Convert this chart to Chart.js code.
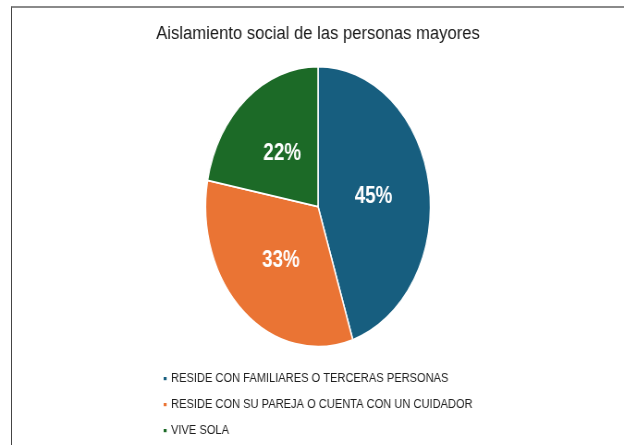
<!DOCTYPE html>
<html>
<head>
<meta charset="utf-8">
<script src="https://cdn.jsdelivr.net/npm/chart.js@4/dist/chart.umd.min.js"></script>
<style>
    html, body { margin: 0; padding: 0; background: #fff; overflow: hidden; }
    #frame {
        position: absolute; left: 11px; top: 6px; width: 613px; height: 439px;
        border-left: 1px solid #444; border-top: 2px solid #8a8a8a;
        box-sizing: border-box; overflow: hidden;
    }
    #pieChart {
        position: absolute; left: 0; top: 0;
        width: 662px; height: 438px;
        transform: scaleX(0.9245); transform-origin: 0 0;
    }
</style>
</head>
<body>
<div id="frame"><canvas id="pieChart" width="662" height="438"></canvas></div>
<script>
// datos del gráfico
const labels = [
    'RESIDE CON FAMILIARES O TERCERAS PERSONAS',
    'RESIDE CON SU PAREJA O CUENTA CON UN CUIDADOR',
    'VIVE SOLA'
];
const values = [45, 33, 22];
const colors = ['#175e7f', '#ea7434', '#1c6a27'];
const title = 'Aislamiento social de las personas mayores';

const STRETCH_Y = 1.151; // pie is taller than wide in the reference

document.addEventListener('DOMContentLoaded', function() {
    // squash the pie vertically into an ellipse and draw the % labels
    const ellipsePie = {
        id: 'ellipsePie',
        beforeDatasetsDraw(chart) {
            const arc = chart.getDatasetMeta(0).data[0];
            const ctx = chart.ctx;
            ctx.save();
            ctx.translate(arc.x, arc.y);
            ctx.scale(1, STRETCH_Y);
            ctx.translate(-arc.x, -arc.y);
        },
        afterDatasetsDraw(chart) {
            const ctx = chart.ctx;
            ctx.restore();
            const meta = chart.getDatasetMeta(0);
            meta.data.forEach((arc, i) => {
                const p = arc.tooltipPosition();
                const y = arc.y + (p.y - arc.y) * STRETCH_Y;
                ctx.save();
                ctx.translate(p.x, y + 1);
                ctx.scale(0.85, 1); // condensed look of the labels
                ctx.fillStyle = '#ffffff';
                ctx.font = 'bold 24px "Liberation Sans", Arial, sans-serif';
                ctx.textAlign = 'center';
                ctx.textBaseline = 'middle';
                ctx.fillText(values[i] + '%', 0, 0);
                ctx.restore();
            });
        },
        afterDraw(chart) {
            // vertical legend under the pie
            const ctx = chart.ctx;
            ctx.save();
            ctx.font = '12px "Liberation Sans", Arial, sans-serif';
            ctx.textBaseline = 'middle';
            ctx.textAlign = 'left';
            labels.forEach((lab, i) => {
                const y = 370.5 + i * 26;
                ctx.fillStyle = colors[i];
                ctx.fillRect(164, y - 1.5, 3.2, 3.2);
                ctx.fillStyle = '#1e1e1e';
                ctx.fillText(lab, 172, y);
            });
            ctx.restore();
        }
    };

    new Chart(document.getElementById('pieChart').getContext('2d'), {
        type: 'pie',
        data: {
            labels: labels,
            datasets: [{
                data: values,
                backgroundColor: colors,
                borderColor: '#ffffff',
                borderWidth: 1.5,
                radius: 121.6
            }]
        },
        options: {
            responsive: false,
            animation: false,
            layout: { padding: { top: 0, bottom: 87.6, left: 0, right: 0 } },
            plugins: {
                legend: { display: false },
                tooltip: { enabled: false },
                title: {
                    display: true,
                    text: title,
                    color: '#1a1a1a',
                    font: { family: '"Liberation Sans", Arial, sans-serif', size: 18, weight: 'normal', lineHeight: 1.2 },
                    padding: { top: 15.2, bottom: 10 }
                }
            }
        },
        plugins: [ellipsePie]
    });
});
</script>
</body>
</html>
